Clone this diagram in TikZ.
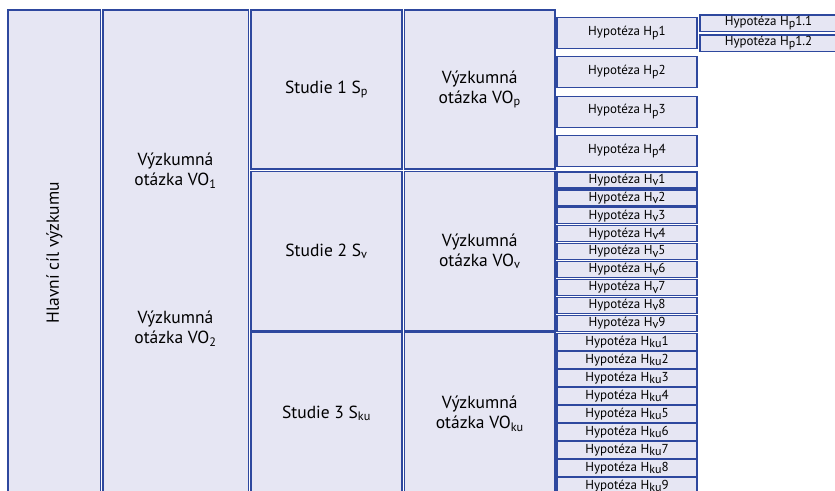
\documentclass[tikz,border=0pt]{standalone}
\usepackage{fontspec}
\setmainfont{PT Sans}
\usetikzlibrary{positioning}
\definecolor{boxfill}{RGB}{230,230,243}
\definecolor{boxline}{RGB}{46,72,158}
\newcommand{\hs}[1]{\raisebox{-0.35ex}{\fontsize{12}{12}\selectfont #1}}
\tikzset{
	box/.style={draw=boxline, fill=boxfill, line width=1.2pt, anchor=north west, inner sep=0pt, outer sep=0pt, align=center, font=\fontsize{17.5}{20}\selectfont},
	hyp/.style={box, minimum width=140pt, font=\fontsize{13}{13}\selectfont}
}
\begin{document}
\begin{tikzpicture}[x=1pt, y=-1pt]
			\useasboundingbox (0,0) rectangle (835,490);
			\clip (0,0) rectangle (835,490);
			\node[box, minimum width=92.5pt, minimum height=485pt] (cil) at (8,10) {};
			\node[rotate=90, font=\fontsize{17.5}{20}\selectfont] (cil text) at (cil.center) {Hlavní cíl výzkumu};
			\node[box, minimum width=145.5pt, minimum height=485pt] (vo) at (103,10) {};
			\node[align=center, font=\fontsize{17.5}{20}\selectfont] (vo1) at (175.5,171) {Výzkumná\\otázka VO\textsubscript{1}};
			\node[align=center, font=\fontsize{17.5}{20}\selectfont] (vo2) at (175.5,329) {Výzkumná\\otázka VO\textsubscript{2}};
			\node[box, minimum width=151pt, minimum height=159pt] (st1) at (251,10) {Studie 1 S\textsubscript{p}};
			\node[box, minimum width=150.5pt, minimum height=159pt] (vop) at (404.5,10) {Výzkumná\\otázka VO\textsubscript{p}};
			\node[box, minimum width=151pt, minimum height=159.5pt] (st2) at (251,171.5) {Studie 2 S\textsubscript{v}};
			\node[box, minimum width=150.5pt, minimum height=159.5pt] (vov) at (404.5,171.5) {Výzkumná\\otázka VO\textsubscript{v}};
			\node[box, minimum width=151pt, minimum height=162pt] (st3) at (251,332.5) {Studie 3 S\textsubscript{ku}};
			\node[box, minimum width=150.5pt, minimum height=162pt] (voku) at (404.5,332.5) {Výzkumná\\otázka VO\textsubscript{ku}};
			\foreach \i in {1,...,4}
				\node[hyp, minimum height=31pt] (hp\i) at (557,{17.5+39.3*(\i-1)}) {Hypotéza H\hs{p}\i};
			\node[hyp, minimum width=137pt, minimum height=16.5pt] (hp11) at (700,15) {Hypotéza H\hs{p}1.1};
			\node[hyp, minimum width=137pt, minimum height=16.5pt] (hp12) at (700,35) {Hypotéza H\hs{p}1.2};
			\foreach \i in {1,...,9}
				\node[hyp, minimum height=16pt] (hv\i) at (557,{172+17.9*(\i-1)}) {Hypotéza H\hs{v}\i};
			\foreach \i in {1,...,9}
				\node[hyp, minimum height=17pt] (hku\i) at (557,{333.3+18*(\i-1)}) {Hypotéza H\hs{ku}\i};
		\end{tikzpicture}
\end{document}
